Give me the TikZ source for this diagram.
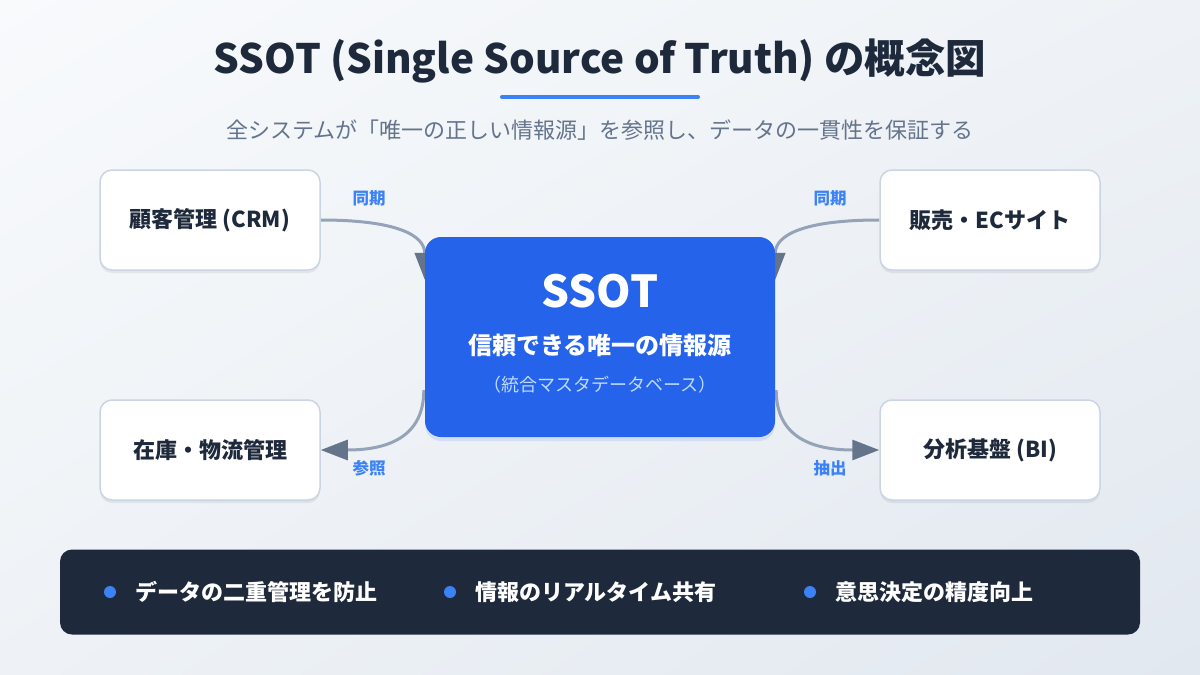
\documentclass[tikz,border=0pt]{standalone}
\usepackage{fontspec}
\setmainfont{Noto Sans CJK JP}
\usetikzlibrary{arrows.meta,calc,shadows,shadings}
\definecolor{navy}{HTML}{1E293B}
\definecolor{slate}{HTML}{64748B}
\definecolor{accent}{HTML}{3B82F6}
\definecolor{core}{HTML}{2563EB}
\definecolor{boxline}{HTML}{CBD5E1}
\definecolor{connc}{HTML}{94A3B8}
\definecolor{tipc}{HTML}{64748B}
\definecolor{subblue}{HTML}{BFDBFE}
\definecolor{bgA}{HTML}{F8FAFC}
\definecolor{bgB}{HTML}{EEF2F6}
\definecolor{bgC}{HTML}{E2E8F0}
\pgfdeclarelayer{conn}
\pgfsetlayers{conn,main}
\tikzset{
  sysbox/.style={draw=boxline, line width=1.5pt, fill=white, rounded corners=12pt,
    minimum width=220pt, minimum height=100pt, text=navy,
    font=\fontsize{22}{26}\selectfont\bfseries,
    drop shadow={shadow xshift=0pt, shadow yshift=-3pt, opacity=0.08, fill=navy}},
  corebox/.style={fill=core, rounded corners=16pt, minimum width=350pt, minimum height=200pt,
    drop shadow={shadow xshift=0pt, shadow yshift=-4pt, opacity=0.12, fill=core}},
  conn/.style={draw=connc, line width=3pt, -{Triangle[length=27pt,width=20pt,color=tipc,fill=tipc]}},
  lbl/.style={text=accent, font=\fontsize{16.5}{19}\selectfont\bfseries},
  bartext/.style={text=white, font=\fontsize{22}{26}\selectfont\bfseries, anchor=west, inner sep=0pt},
  bullet/.style={circle, fill=accent, minimum size=12pt, inner sep=0pt},
}
\begin{document}
\begin{tikzpicture}[x=1pt,y=-1pt]
\useasboundingbox (0,0) rectangle (1200,675);
\begin{pgfonlayer}{conn}
\shade[upper left=bgA, upper right=bgB, lower left=bgB, lower right=bgC] (0,0) rectangle (1200,675);
\end{pgfonlayer}

% title
\node[text=navy, font=\fontsize{40.5}{46}\selectfont\bfseries] (title) at (600,61) {SSOT (Single Source of Truth) の概念図};
\draw[accent, line width=4pt, line cap=round] (502,97) -- (698,97);
\node[text=slate, font=\fontsize{22}{26}\selectfont] (sub) at (600,130) {全システムが「唯一の正しい情報源」を参照し、データの一貫性を保証する};

% systems
\node[sysbox] (crm) at (210,220) {顧客管理 (CRM)};
\node[sysbox] (ec) at (990,220) {販売・ECサイト};
\node[sysbox] (inv) at (210,450) {在庫・物流管理};
\node[sysbox] (bi) at (990,450) {分析基盤 (BI)};

% core
\node[corebox] (ssot) at (600,337) {};
\node[text=white, font=\fontsize{44}{48}\selectfont\bfseries] (ssott) at (600,291) {SSOT};
\node[text=white, font=\fontsize{24}{28}\selectfont\bfseries] (ssotd) at (600,345) {信頼できる唯一の情報源};
\node[text=subblue, font=\fontsize{18}{21}\selectfont] (ssots) at (600,385) {（統合マスタデータベース）};

% connectors
\begin{pgfonlayer}{conn}
\draw[conn] (crm.east) .. controls +(75,0) and +(0,-45) .. ($(ssot.north west)+(0,43)$);
\draw[conn] (ec.west) .. controls +(-75,0) and +(0,-45) .. ($(ssot.north east)+(0,43)$);
\draw[conn] ($(ssot.south west)+(-1,-47)$) .. controls +(0,45) and +(70,0) .. (inv.east);
\draw[conn] ($(ssot.south east)+(1,-47)$) .. controls +(0,45) and +(-70,0) .. (bi.west);
\end{pgfonlayer}
\node[lbl] (l1) at (369,198) {同期};
\node[lbl] (l2) at (830,198) {同期};
\node[lbl] (l3) at (369,468) {参照};
\node[lbl] (l4) at (830,468) {抽出};

% bottom bar
\node[fill=navy, rounded corners=12pt, minimum width=1080pt, minimum height=85pt] (bar) at (600,592) {};
\node[bullet] (b1) at (110,592) {};
\node[bartext] (t1) at (135,592) {データの二重管理を防止};
\node[bullet] (b2) at (450,592) {};
\node[bartext] (t2) at (475,592) {情報のリアルタイム共有};
\node[bullet] (b3) at (810,592) {};
\node[bartext] (t3) at (835,592) {意思決定の精度向上};
\end{tikzpicture}
\end{document}
